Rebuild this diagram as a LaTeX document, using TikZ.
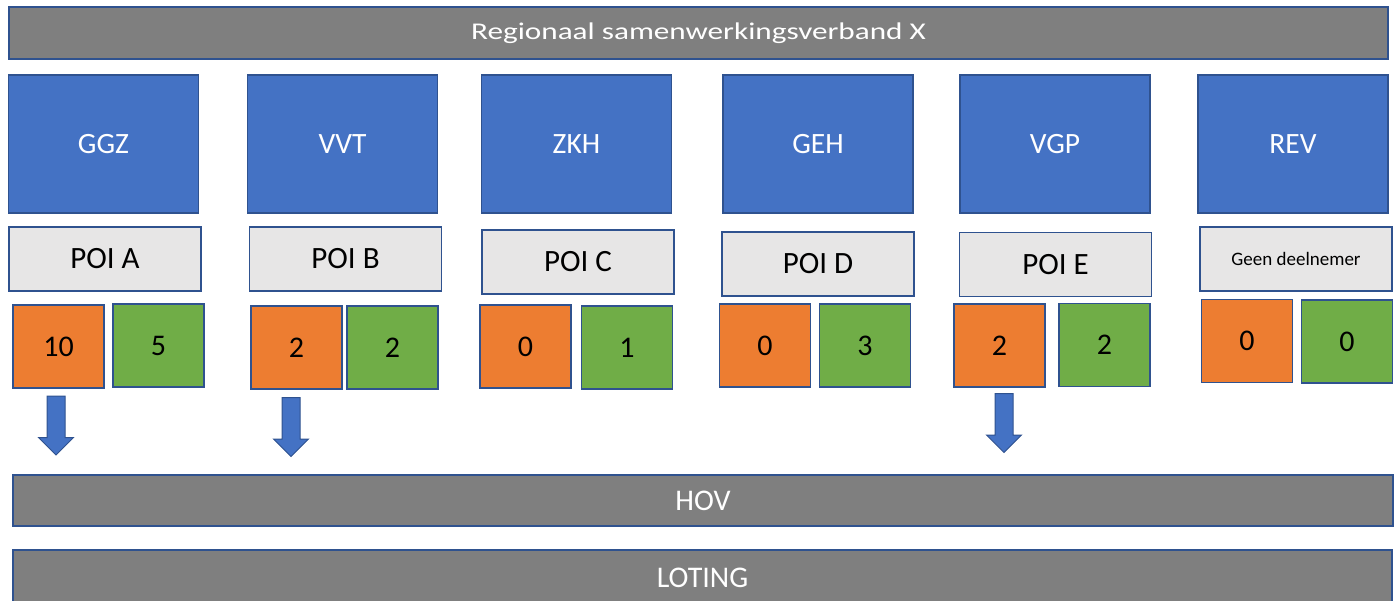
\documentclass[tikz,border=0pt]{standalone}
\usepackage{xcolor}
\usepackage{graphicx}
\usepackage{fontspec}
\setmainfont{Carlito}
\usepackage{tikz}
\usetikzlibrary{shapes.arrows}

\definecolor{rand}{HTML}{2F528F}
\definecolor{grijs}{HTML}{7F7F7F}
\definecolor{blauw}{HTML}{4472C4}
\definecolor{lichtgrijs}{HTML}{E7E6E6}
\definecolor{oranje}{HTML}{ED7D31}
\definecolor{groen}{HTML}{70AD47}

\tikzset{
  vak/.style={draw=rand, line width=1.2pt, inner sep=0pt},
  balk/.style={vak, fill=grijs, text=white, font=\fontsize{30}{36}\selectfont},
  sector/.style={vak, fill=blauw, text=white, minimum width=190pt, minimum height=138pt, font=\fontsize{29.5}{35}\selectfont},
  poi/.style={vak, fill=lichtgrijs, minimum width=192pt, minimum height=64pt, font=\fontsize{31}{37}\selectfont},
  aantal/.style={vak, minimum width=91pt, minimum height=83pt, font=\fontsize{30}{36}\selectfont},
  oranjevak/.style={aantal, fill=oranje},
  groenvak/.style={aantal, fill=groen},
  pijl/.style={single arrow, draw=rand, fill=blauw, line width=1pt, rotate=-90,
    inner xsep=0pt, inner ysep=8.5pt, minimum height=59pt, minimum width=34pt,
    single arrow head extend=8.5pt}
}

\begin{document}
\begin{tikzpicture}[x=1pt, y=-1pt]
      \useasboundingbox (0,0) rectangle (1397,600);

      % Samenwerkingsverband
      \node[balk, minimum width=1379pt, minimum height=52pt, font=\fontsize{24}{29}\selectfont] (regio) at (698.5,33)
        {\scalebox{1.3}[1]{Regionaal samenwerkingsverband X}};

      % Sectoren
      \node[sector] (ggz) at (103.5,144) {GGZ};
      \node[sector] (vvt) at (342.5,144) {VVT};
      \node[sector] (zkh) at (576.5,144) {ZKH};
      \node[sector] (geh) at (818,144) {GEH};
      \node[sector] (vgp) at (1055,144) {VGP};
      \node[sector] (rev) at (1293,144) {REV};

      \node[poi] (poiA) at (105,259) {POI A};
      \node[poi] (poiB) at (345.5,259) {POI B};
      \node[poi] (poiC) at (578,262) {POI C};
      \node[poi] (poiD) at (818,264) {POI D};
      \node[poi] (poiE) at (1055.5,264.5) {POI E};
      \node[poi, font=\fontsize{19}{23}\selectfont] (geen) at (1296,259) {Geen deelnemer};

      % Aantallen
      \node[oranjevak] (oA) at (58.5,346.5) {10};
      \node[groenvak] (gA) at (158.5,345.5) {5};
      \node[oranjevak] (oB) at (296.5,347.5) {2};
      \node[groenvak] (gB) at (392.5,347.5) {2};
      \node[oranjevak] (oC) at (525.5,346.5) {0};
      \node[groenvak] (gC) at (627,347.5) {1};
      \node[oranjevak] (oD) at (765,345.5) {0};
      \node[groenvak] (gD) at (865,345.5) {3};
      \node[oranjevak] (oE) at (999.5,345.5) {2};
      \node[groenvak] (gE) at (1104.5,345) {2};
      \node[oranjevak] (oR) at (1247,341) {0};
      \node[groenvak] (gR) at (1347,341.5) {0};

      \node[pijl] (pA) at (56,421) {};
      \node[pijl] (pB) at (291,422.5) {};
      \node[pijl] (pE) at (1004,418.5) {};

      % HOV en loting
      \node[balk, minimum width=1380pt, minimum height=51pt] (hov) at (703,500.5) {HOV};
      \node[balk, minimum width=1379pt, minimum height=56pt] (loting) at (702.5,578) {LOTING};
\end{tikzpicture}
\end{document}
